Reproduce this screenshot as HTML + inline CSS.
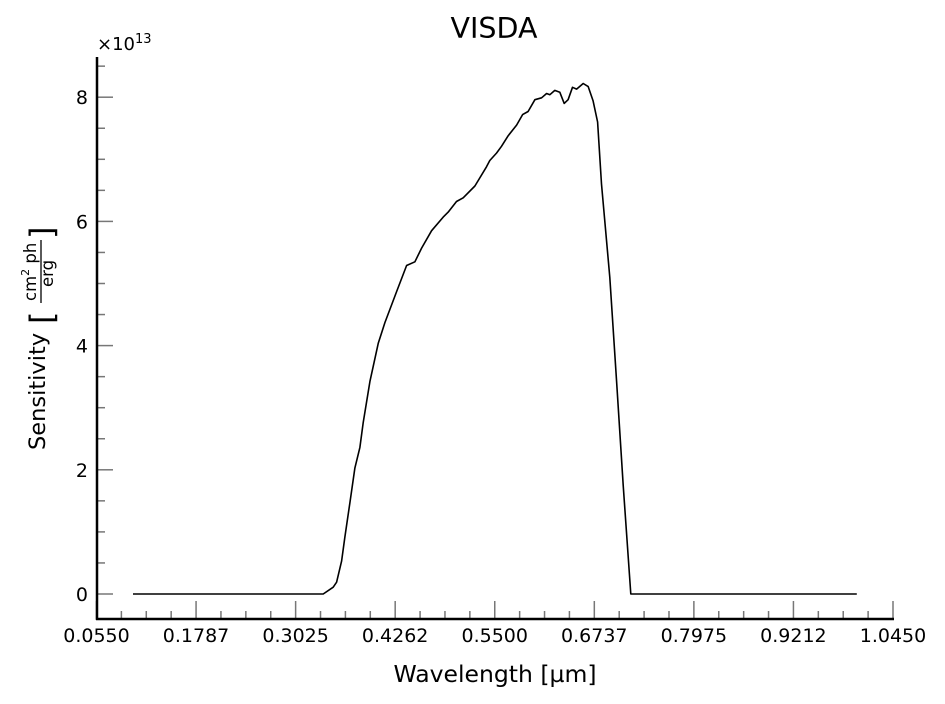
<!DOCTYPE html>
<html><head><meta charset="utf-8"><style>
html,body{margin:0;padding:0;background:#fff;}
svg{display:block;font-family:"DejaVu Sans","Liberation Sans",sans-serif;}
</style></head><body>
<svg id="chart" width="945" height="704" viewBox="0 0 945 704" xmlns="http://www.w3.org/2000/svg">
<text x="494" y="38" font-size="28.5" text-anchor="middle">VISDA</text>
<text x="97" y="50" font-size="18">×10<tspan font-size="13" dy="-7">13</tspan></text>
<g id="yticks"></g>
<g id="xticks"></g>
<line x1="97" y1="57" x2="97" y2="620" stroke="#000" stroke-width="2.5"/>
<line x1="96" y1="619" x2="894" y2="619" stroke="#000" stroke-width="2.5"/>
<path id="curve" fill="none" stroke="#000" stroke-width="1.6" stroke-linejoin="round"/>
<text x="495" y="682" font-size="23.5" text-anchor="middle">Wavelength [µm]</text>
<g transform="translate(45,450) rotate(-90)">
<text x="0" y="0" font-size="22.5">Sensitivity</text>
<text x="126" y="8" font-size="32">[</text>
<text x="149" y="-9" font-size="16.5">cm<tspan font-size="11" dy="-7">2</tspan><tspan dy="7"> ph</tspan></text>
<line x1="147" y1="-4" x2="210" y2="-4" stroke="#000" stroke-width="1.3"/>
<text x="163" y="8" font-size="16.5">erg</text>
<text x="211" y="8" font-size="32">]</text>
</g>
</svg>
<script>
const wavelengths = [0.1004,0.3079,0.3368,0.3492,0.3534,0.3597,0.3638,0.3700,0.3762,0.3824,0.3865,0.3948,0.4052,0.4135,0.4280,0.4404,0.4508,0.4591,0.4715,0.4859,0.4921,0.5025,0.5108,0.5253,0.5398,0.5439,0.5522,0.5584,0.5667,0.5771,0.5846,0.5915,0.5999,0.6082,0.6144,0.6185,0.6247,0.6309,0.6363,0.6412,0.6467,0.6517,0.6599,0.6661,0.6723,0.6778,0.6827,0.6930,0.7014,0.7096,0.7191,1.0];
const sensitivity = [0,0,0,0.11,0.19,0.53,0.92,1.47,2.03,2.36,2.76,3.42,4.04,4.37,4.87,5.29,5.35,5.57,5.85,6.07,6.15,6.32,6.38,6.57,6.88,6.98,7.10,7.21,7.38,7.55,7.72,7.77,7.96,7.99,8.06,8.04,8.11,8.08,7.90,7.96,8.16,8.13,8.22,8.17,7.94,7.60,6.60,5.10,3.42,1.75,0,0];
const xTickLabels = ["0.0550","0.1787","0.3025","0.4262","0.5500","0.6737","0.7975","0.9212","1.0450"];
const yTickLabels = ["0","2","4","6","8"];

const X0=0.055, X1=1.045, PX0=96.5, PX1=893;
const xs = v => PX0 + (v - X0) / (X1 - X0) * (PX1 - PX0);
const ys = v => 594 - v * 62.1;
const NS="http://www.w3.org/2000/svg";
function mk(tag, attrs, parent){const e=document.createElementNS(NS,tag);for(const k in attrs)e.setAttribute(k,attrs[k]);parent.appendChild(e);return e;}

const yg=document.getElementById('yticks');
for(let i=0;i<=17;i++){
  const v=i*0.5; const y=ys(v); if(y<58) continue;
  const major = i%4===0;
  const t=mk('line',{x1:97,y1:y,x2:major?113:105,y2:y,stroke:'#777','stroke-width':1.5},yg);
  
  
}
yTickLabels.forEach(l=>{
  const t=mk('text',{x:88,y:ys(+l)+7,'font-size':19,'text-anchor':'end'},yg);
  t.textContent=l;
  
  
});
const xg=document.getElementById('xticks');
const step=(X1-X0)/8;
for(let i=0;i<=32;i++){
  const v=X0+i*step/4; const x=xs(v); const major=i%4===0;
  const t=mk('line',{x1:x,y1:619,x2:x,y2:major?601:611,stroke:'#777','stroke-width':1.5},xg);
  
  
}
xTickLabels.forEach(l=>{
  const t=mk('text',{x:xs(+l),y:642,'font-size':19,'text-anchor':'middle'},xg);
  t.textContent=l;
  
  
});
document.getElementById('curve').setAttribute('d', wavelengths.map((w,i)=>(i?'L':'M')+xs(w).toFixed(1)+','+ys(sensitivity[i]).toFixed(1)).join(''));
</script>
</body></html>
